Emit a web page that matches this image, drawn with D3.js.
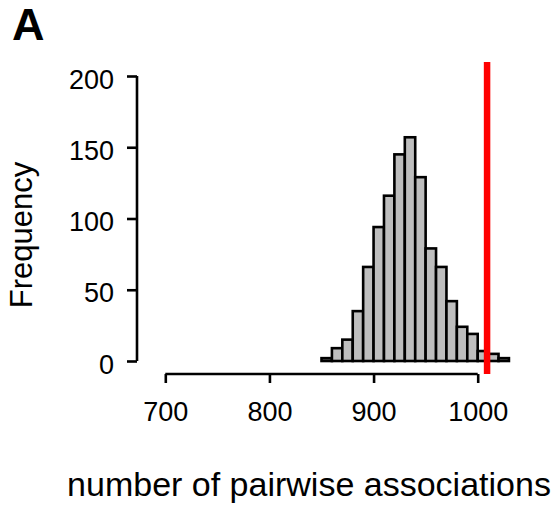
<!DOCTYPE html>
<html>
<head>
<meta charset="utf-8">
<script src="https://cdn.jsdelivr.net/npm/d3@7"></script>
<style>
  html, body { margin: 0; padding: 0; background: #fff; }
  text { font-family: "Liberation Sans", Arial, sans-serif; fill: #000; }
</style>
</head>
<body>
<svg id="chart" width="557" height="516"></svg>
<script>
// Histogram bins (lower edges, width 10) and counts
const binStarts = [850, 860, 870, 880, 890, 900, 910, 920, 930, 940, 950, 960, 970, 980, 990, 1000, 1010, 1020];
const binCounts = [2, 9, 15, 35, 66, 94, 116, 145, 157, 129, 79, 66, 42, 24, 19, 7, 5, 2];
const binWidth = 10;
const observedValue = 1009;
const xTicks = [700, 800, 900, 1000];
const yTicks = [0, 50, 100, 150, 200];
const panelLabel = "A";
const xLabel = "number of pairwise associations";
const yLabel = "Frequency";

const svg = d3.select("#chart");

const x = d3.scaleLinear().domain([700, 1000]).range([165.3, 477.7]);
const y = d3.scaleLinear().domain([0, 200]).range([361, 76]);

// Bars
svg.append("g").selectAll("rect")
  .data(binStarts.map((s, i) => ({ s, c: binCounts[i] })))
  .join("rect")
  .attr("x", d => x(d.s))
  .attr("width", d => x(d.s + binWidth) - x(d.s))
  .attr("y", d => y(d.c))
  .attr("height", d => y(0) - y(d.c))
  .attr("fill", "#bebebe")
  .attr("stroke", "#000")
  .attr("stroke-width", 2.6);

// Observed value line
svg.append("line")
  .attr("x1", x(observedValue)).attr("x2", x(observedValue))
  .attr("y1", 62).attr("y2", 374)
  .attr("stroke", "#ff0000")
  .attr("stroke-width", 6.5);

// Y axis
const yAxis = d3.axisLeft(y).tickValues(yTicks).tickFormat(d3.format("d"))
  .tickSize(10).tickPadding(13).tickSizeOuter(0);
const gy = svg.append("g").attr("transform", "translate(137,0)").call(yAxis);
gy.select(".domain").attr("stroke-width", 2.6).attr("d", `M0,${y(0)}V${y(200)}`);
gy.selectAll(".tick line").attr("stroke-width", 2.6);
gy.selectAll(".tick text").style("font-size", "27px").attr("dy", "0.45em");

// X axis
const xAxis = d3.axisBottom(x).tickValues(xTicks).tickFormat(d3.format("d"))
  .tickSize(9).tickPadding(19).tickSizeOuter(0);
const gx = svg.append("g").attr("transform", "translate(0,374)").call(xAxis);
gx.select(".domain").attr("stroke-width", 2.6).attr("d", `M${x(700)},0H${x(1000)}`);
gx.selectAll(".tick line").attr("stroke-width", 2.6);
gx.selectAll(".tick text").style("font-size", "27px");

// Axis titles
svg.append("text")
  .attr("transform", "translate(32,235) rotate(-90)")
  .attr("text-anchor", "middle")
  .style("font-size", "31px")
  .text(yLabel);

svg.append("text")
  .attr("x", 309).attr("y", 496)
  .attr("text-anchor", "middle")
  .style("font-size", "34px")
  .text(xLabel);

// Panel label
svg.append("text")
  .attr("x", 12).attr("y", 39.5)
  .style("font-size", "45px")
  .style("font-weight", "bold")
  .text(panelLabel);
</script>
</body>
</html>
